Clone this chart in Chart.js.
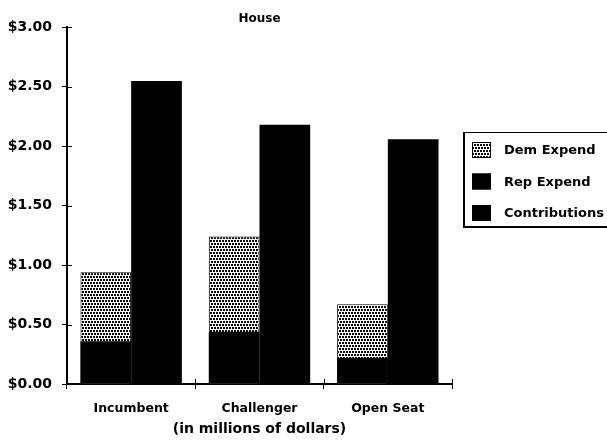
<!DOCTYPE html>
<html>
<head>
<meta charset="utf-8">
<script src="https://cdn.jsdelivr.net/npm/chart.js@4"></script>
<style>
  html, body { margin: 0; padding: 0; background: #fff; }
  #wrap { width: 607px; height: 448px; }
</style>
</head>
<body>
<div id="wrap"><canvas id="houseChart"></canvas></div>
<script>
var categories = ['Incumbent', 'Challenger', 'Open Seat'];
var demExpend = [0.94, 1.24, 0.67];
var repExpend = [2.55, 2.18, 2.06];
var contributions = [0.36, 0.44, 0.22];
var yTicks = [0, 0.5, 1, 1.5, 2, 2.5, 3];

// dotted fill for the Dem bars
function dotPattern() {
  var c = document.createElement('canvas');
  c.width = 6; c.height = 6;
  var g = c.getContext('2d');
  g.fillStyle = '#fff';
  g.fillRect(0, 0, 6, 6);
  g.fillStyle = '#000';
  [[0, 0], [3, 0], [1, 3], [4, 3]].forEach(function (p) { g.fillRect(p[0], p[1], 2, 2); });
  return g.createPattern(c, 'repeat');
}
var dots = dotPattern();
var FONT = "'DejaVu Sans', sans-serif";

// ticks that cross the axis lines, and the boxed legend on the right
var axisExtras = {
  id: 'axisExtras',
  afterDraw: function (chart) {
    var ctx = chart.ctx, a = chart.chartArea;
    var y = chart.scales.y;
    ctx.save();
    ctx.strokeStyle = '#000';
    ctx.lineWidth = 1;
    y.ticks.forEach(function (t, i) {
      var py = Math.round(y.getPixelForTick(i)) + 0.5;
      ctx.beginPath(); ctx.moveTo(a.left, py); ctx.lineTo(a.left + 5, py); ctx.stroke();
    });
    for (var i = 0; i <= categories.length; i++) {
      var px = Math.round(a.left + (a.right - a.left) * i / categories.length) + 0.5;
      ctx.beginPath(); ctx.moveTo(px, a.bottom); ctx.lineTo(px, a.bottom - 5); ctx.stroke();
    }

    // legend
    var lx = a.right + 11, ly = 132, lw = 160, lh = 96;
    ctx.fillStyle = '#000';
    ctx.fillRect(lx, ly, lw, 1);
    ctx.fillRect(lx, ly, 2, lh);
    ctx.fillRect(lx, ly + lh - 2, lw, 2);
    ctx.font = 'bold 13px ' + FONT;
    ctx.textBaseline = 'middle';
    chart.data.datasets.forEach(function (ds, i) {
      var cy = ly + 18 + i * 31.5;
      ctx.fillStyle = ds.backgroundColor;
      ctx.fillRect(lx + 9, cy - 8, 19, 16);
      ctx.strokeStyle = '#000';
      ctx.strokeRect(lx + 9.5, cy - 7.5, 18, 15);
      ctx.fillStyle = '#000';
      ctx.fillText(ds.label, lx + 41, cy + 1);
    });
    ctx.restore();
  }
};

var ctx = document.getElementById('houseChart').getContext('2d');
new Chart(ctx, {
  type: 'bar',
  data: {
    labels: categories,
    datasets: [{
      label: 'Dem Expend',
      data: demExpend,
      backgroundColor: dots,
      borderColor: '#000',
      borderWidth: 1,
      stack: 'dem',
      order: 0
    }, {
      label: 'Rep Expend',
      data: repExpend,
      backgroundColor: '#000',
      stack: 'rep',
      order: 0
    }, {
      label: 'Contributions',
      data: contributions,
      backgroundColor: '#000',
      stack: 'dem',
      order: -1 // drawn over the Dem bar
    }]
  },
  plugins: [axisExtras],
  options: {
    responsive: true,
    maintainAspectRatio: false,
    animation: false,
    datasets: { bar: { categoryPercentage: 0.79, barPercentage: 1.0 } },
    layout: { padding: { left: 8, right: 155, bottom: 6, top: 0 } },
    plugins: {
      legend: { display: false },
      tooltip: { enabled: false },
      title: {
        display: true,
        text: 'House',
        fullSize: false,
        color: '#000',
        font: { family: FONT, size: 12, weight: 'bold' },
        padding: { top: 12, bottom: 1 }
      }
    },
    scales: {
      x: {
        afterFit: function (scale) { scale.height = 58; },
        grid: { drawOnChartArea: false, tickLength: 5, color: '#000' },
        border: { color: '#000', width: 2 },
        ticks: { color: '#000', padding: 12, font: { family: FONT, size: 12.5, weight: 'bold' } },
        title: {
          display: true,
          text: '(in millions of dollars)',
          color: '#000',
          font: { family: FONT, size: 14, weight: 'bold' },
          padding: { top: 4, bottom: 4 }
        }
      },
      y: {
        stacked: false,
        min: 0,
        max: 3,
        afterBuildTicks: function (scale) {
          scale.ticks = yTicks.map(function (v) { return { value: v }; });
        },
        afterFit: function (scale) { scale.width = 59; },
        grid: { drawOnChartArea: false, tickLength: 5, color: '#000' },
        border: { color: '#000', width: 2 },
        ticks: {
          color: '#000',
          padding: 10,
          font: { family: FONT, size: 14, weight: 'bold' },
          callback: function (v) { return '$' + Number(v).toFixed(2); }
        }
      }
    }
  }
});
</script>
</body>
</html>
